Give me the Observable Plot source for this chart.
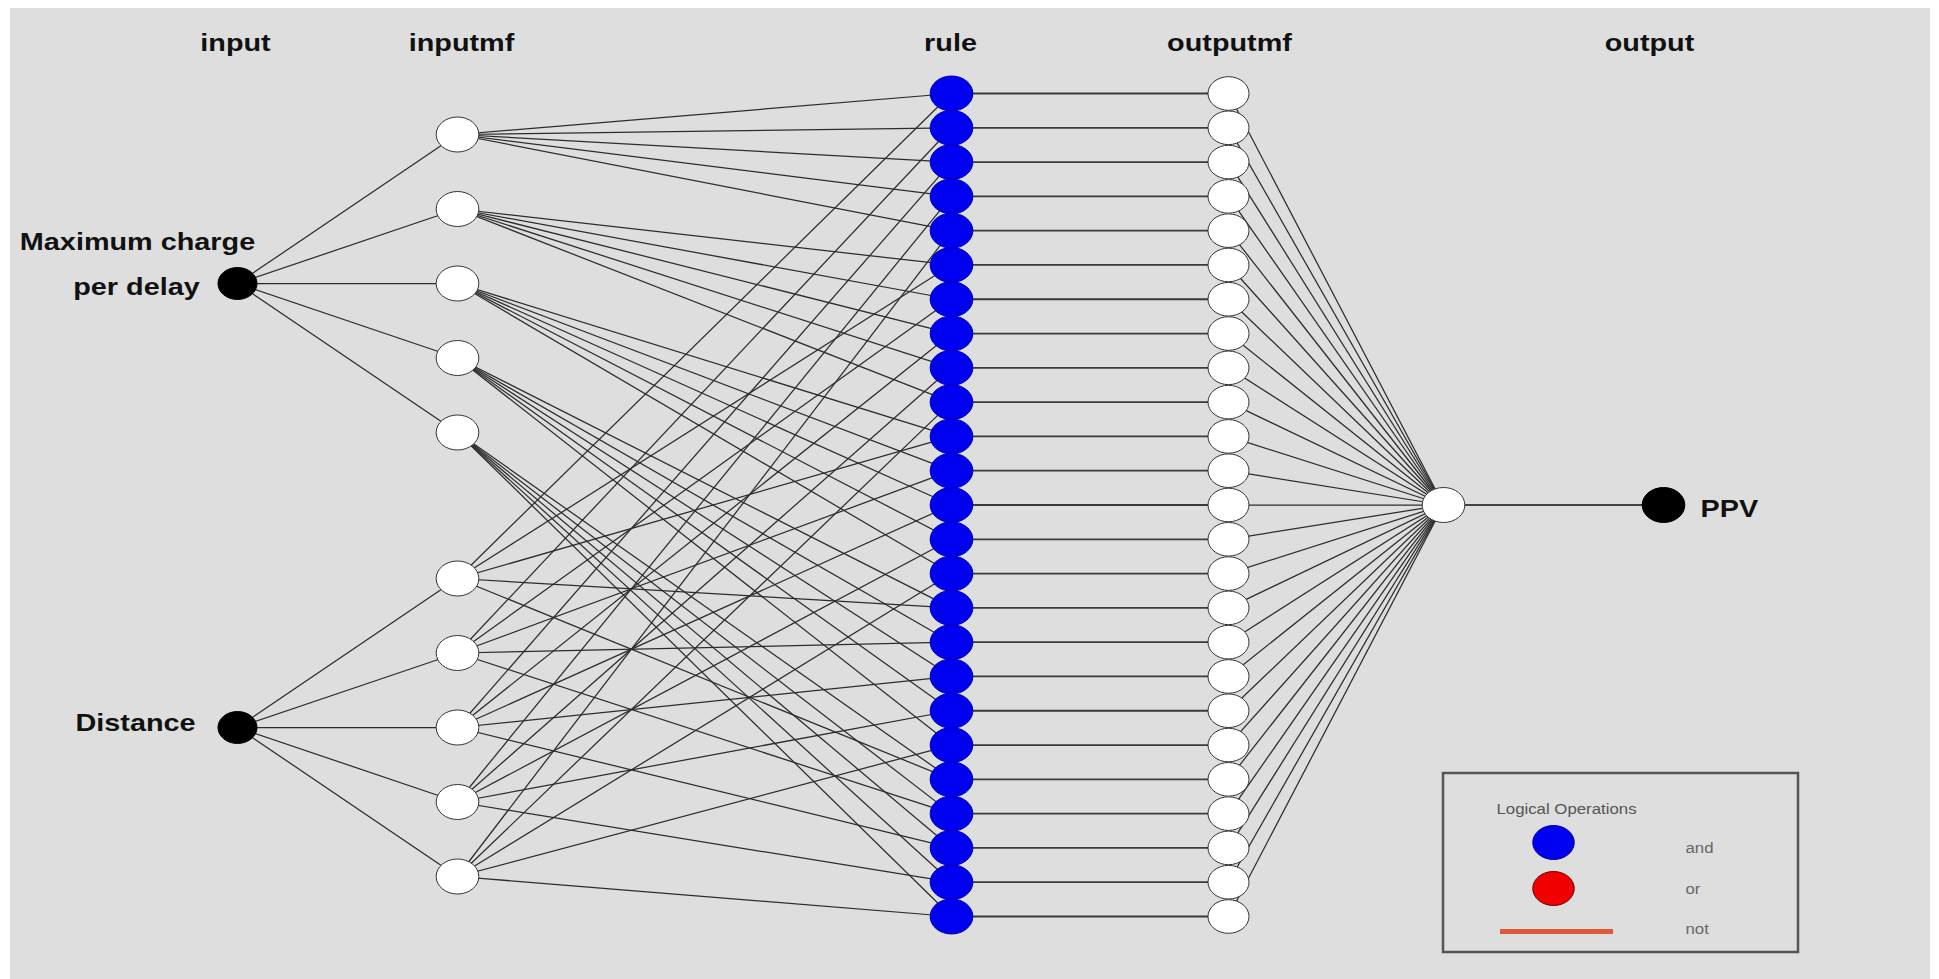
<!DOCTYPE html>
<html>
<head>
<meta charset="utf-8">
<script src="https://cdn.jsdelivr.net/npm/d3@7"></script>
<script src="https://cdn.jsdelivr.net/npm/@observablehq/plot@0.6"></script>
<style>
  html, body { margin: 0; padding: 0; background: #ffffff; }
  #chart { padding-left: 10px; padding-top: 8px; }
  #chart svg { display: block; }
</style>
</head>
<body>
<div id="chart"></div>
<script>
// ---------------- data ----------------
const layerNames = ["input", "inputmf", "rule", "outputmf", "output"];
const inputNames = [["Maximum charge", "per delay"], ["Distance"]];
const mfCounts = [5, 5];
const ruleCount = 25;
const ruleOperators = Array.from({length: 25}, () => "and");
const outputName = "PPV";
const legendTitle = "Logical Operations";
const legendLabels = ["and", "or", "not"];

// ---------------- layout (page pixels) ----------------
const colX = {input: 237, inputmf: 457, rule: 951, outputmf: 1228, output: 1443, outNode: 1663};
const labelX = {input: 235, inputmf: 461, rule: 950, outputmf: 1229, output: 1649};
const ruleTop = 93, ruleBottom = 916;
const slotPx = (ruleBottom - ruleTop) / (ruleCount - 1);
const slot = px => 1 + (px - ruleTop) / slotPx;   // page px -> rule-slot units
const groupCenterPx = [283, 727];
const mfSpacingPx = 74.5;

// ---------------- nodes ----------------
const inputNodes = inputNames.map((n, g) => ({g, x: colX.input, y: slot(groupCenterPx[g])}));
const mfNodes = [];
mfCounts.forEach((c, g) => {
  for (let j = 0; j < c; j++) {
    mfNodes.push({g, j, x: colX.inputmf, y: slot(groupCenterPx[g] + (j - (c - 1) / 2) * mfSpacingPx)});
  }
});
const rules = [];
for (let i = 0; i < mfCounts[0]; i++)
  for (let j = 0; j < mfCounts[1]; j++)
    rules.push({k: i * mfCounts[1] + j + 1, i, j, op: ruleOperators[i * mfCounts[1] + j]});
const ruleNodes = rules.map(r => ({...r, x: colX.rule, y: r.k}));
const outMfNodes = rules.map(r => ({k: r.k, x: colX.outputmf, y: r.k}));
const outNode = {x: colX.output, y: (1 + ruleCount) / 2};
const finalNode = {x: colX.outNode, y: (1 + ruleCount) / 2};

// ---------------- links ----------------
const links = [];
mfNodes.forEach(m => links.push({x1: inputNodes[m.g].x, y1: inputNodes[m.g].y, x2: m.x, y2: m.y}));
ruleNodes.forEach(r => {
  const a = mfNodes[r.i], b = mfNodes[mfCounts[0] + r.j];
  links.push({x1: a.x, y1: a.y, x2: r.x, y2: r.y});
  links.push({x1: b.x, y1: b.y, x2: r.x, y2: r.y});
});
const ruleLinks = ruleNodes.map((r, idx) => ({x1: r.x, y1: r.y, x2: outMfNodes[idx].x, y2: outMfNodes[idx].y}));
const outLinks = outMfNodes.map(o => ({x1: o.x, y1: o.y, x2: outNode.x, y2: outNode.y}));
const finalLink = [{x1: outNode.x, y1: outNode.y, x2: finalNode.x, y2: finalNode.y}];

// ---------------- ellipse symbol ----------------
const ellipse = {
  draw(ctx, size) {
    const r = Math.sqrt(size / Math.PI), rx = r * 1.22, ry = r, k = 0.5523;
    ctx.moveTo(rx, 0);
    ctx.bezierCurveTo(rx, ry * k, rx * k, ry, 0, ry);
    ctx.bezierCurveTo(-rx * k, ry, -rx, ry * k, -rx, 0);
    ctx.bezierCurveTo(-rx, -ry * k, -rx * k, -ry, 0, -ry);
    ctx.bezierCurveTo(rx * k, -ry, rx, -ry * k, rx, 0);
    ctx.closePath();
  }
};

// ---------------- text ----------------
const topLabels = layerNames.map(n => ({t: n, x: labelX[n], y: slot(43)}));
const inputLabelRows = [
  {t: inputNames[0][0], x: 137, y: slot(242)},
  {t: inputNames[0][1], x: 136, y: slot(287)},
  {t: inputNames[1][0], x: 135, y: slot(723)}
];
const ppvLabel = [{t: outputName, x: 1700, y: slot(509)}];

// legend layout
const legendBox = [{x1: 1443, x2: 1798, y1: slot(773), y2: slot(952)}];
const legendTitleRow = [{t: legendTitle, x: 1566, y: slot(809)}];
const legendDots = [
  {x: 1553, y: slot(842), fill: "#0000f0", stroke: "#0000a0"},
  {x: 1553, y: slot(888), fill: "#f00000", stroke: "#700000"}
];
const legendLine = [{x1: 1500, x2: 1613, y: slot(931)}];
const legendText = legendLabels.map((t, i) => ({t, x: 1685, y: slot([848, 889, 929][i])}));

const FONT = "Liberation Sans, Arial, Helvetica, sans-serif";
const LINK = "#2c2c2c";

const chart = Plot.plot({
  width: 1920,
  height: 971,
  margin: 0,
  x: {domain: [0, 1939], range: [-10, 1929], axis: null},
  y: {domain: [1, 25], range: [85, 908], axis: null},
  style: {background: "#dedede", fontFamily: FONT},
  marks: [
    Plot.link(links, {x1: "x1", y1: "y1", x2: "x2", y2: "y2", stroke: LINK, strokeWidth: 1.25}),
    Plot.link(ruleLinks, {x1: "x1", y1: "y1", x2: "x2", y2: "y2", stroke: "#3a3a3a", strokeWidth: 1.8}),
    Plot.link(outLinks, {x1: "x1", y1: "y1", x2: "x2", y2: "y2", stroke: LINK, strokeWidth: 1.25}),
    Plot.link(finalLink, {x1: "x1", y1: "y1", x2: "x2", y2: "y2", stroke: "#444", strokeWidth: 2}),
    Plot.dot(inputNodes, {x: "x", y: "y", r: 16, symbol: ellipse, fill: "#000", stroke: "#000", strokeWidth: 1}),
    Plot.dot(mfNodes, {x: "x", y: "y", r: 17.5, symbol: ellipse, fill: "#ffffff", stroke: "#333", strokeWidth: 1}),
    Plot.dot(ruleNodes, {x: "x", y: "y", r: 17.5, symbol: ellipse, fill: "#0000f0", stroke: "#0000b0", strokeWidth: 1}),
    Plot.dot(outMfNodes, {x: "x", y: "y", r: 16.8, symbol: ellipse, fill: "#ffffff", stroke: "#333", strokeWidth: 1}),
    Plot.dot([outNode], {x: "x", y: "y", r: 17.5, symbol: ellipse, fill: "#ffffff", stroke: "#333", strokeWidth: 1}),
    Plot.dot([finalNode], {x: "x", y: "y", r: 17.5, symbol: ellipse, fill: "#000", stroke: "#000", strokeWidth: 1}),
    Plot.text(topLabels, {x: "x", y: "y", text: "t", fontSize: 24, fontWeight: "bold", fill: "#111"}),
    Plot.text(inputLabelRows, {x: "x", y: "y", text: "t", fontSize: 24, fontWeight: "bold", fill: "#111"}),
    Plot.text(ppvLabel, {x: "x", y: "y", text: "t", fontSize: 24, fontWeight: "bold", fill: "#111", textAnchor: "start"}),
    Plot.rect(legendBox, {x1: "x1", x2: "x2", y1: "y1", y2: "y2", fill: "none", stroke: "#555", strokeWidth: 2.5}),
    Plot.text(legendTitleRow, {x: "x", y: "y", text: "t", fontSize: 14, fill: "#555"}),
    Plot.dot(legendDots, {x: "x", y: "y", r: 17, symbol: ellipse, fill: "fill", stroke: "stroke", strokeWidth: 1}),
    Plot.ruleY(legendLine, {x1: "x1", x2: "x2", y: "y", stroke: "#e0583a", strokeWidth: 5}),
    Plot.text(legendText, {x: "x", y: "y", text: "t", fontSize: 14, fill: "#666", textAnchor: "start"})
  ]
});

document.getElementById("chart").append(chart);

// stretch all text horizontally to match the stretched original figure
chart.querySelectorAll("text").forEach(el => {
  if (el.querySelector("tspan")) return;
  const len = el.getComputedTextLength();
  if (len > 0) {
    el.setAttribute("textLength", (len * 1.2).toFixed(1));
    el.setAttribute("lengthAdjust", "spacingAndGlyphs");
  }
});
</script>
</body>
</html>
